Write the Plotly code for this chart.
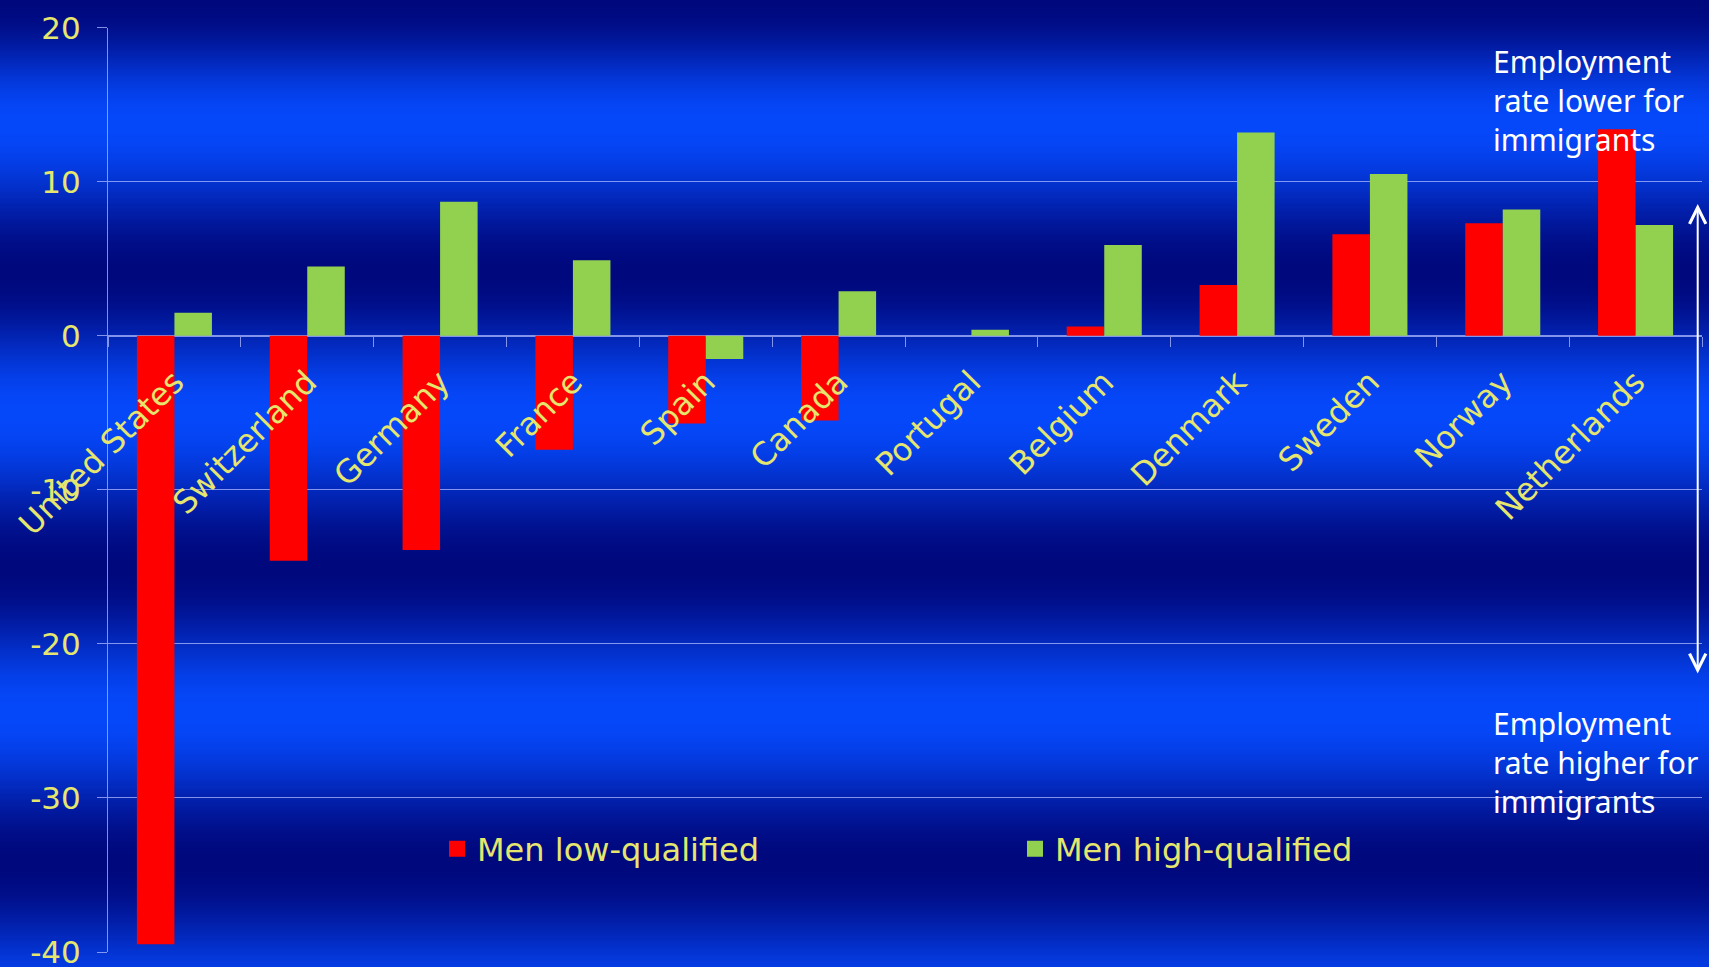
import numpy as np
import plotly.graph_objects as go

# Difference in employment rate, native-born minus immigrants (percentage points)
countries = ["United States", "Switzerland", "Germany", "France", "Spain", "Canada",
             "Portugal", "Belgium", "Denmark", "Sweden", "Norway", "Netherlands"]
men_low = [-39.5, -14.6, -13.9, -7.4, -5.7, -5.5, 0.0, 0.6, 3.3, 6.6, 7.3, 13.4]
men_high = [1.5, 4.5, 8.7, 4.9, -1.5, 2.9, 0.4, 5.9, 13.2, 10.5, 8.2, 7.2]
y_ticks = [-40, -30, -20, -10, 0, 10, 20]
y_tick_text = ["-40", "-30", "-20", "-10", "0", "10", "20"]

W, H = 1709, 967
YELLOW = "#e6e66e"
GRID = "rgba(175,185,255,0.75)"
RED = "#ff0000"
GREEN = "#92d050"

# plot-area placement in pixels
px_left, px_right = 108, 1702
px_top, px_bottom = 27.7, 952
x_dom = [px_left / W, px_right / W]
y_dom = [(H - px_bottom) / H, (H - px_top) / H]
y_range = [-40, 20]
zero_pos = y_dom[0] + (0 - y_range[0]) / (y_range[1] - y_range[0]) * (y_dom[1] - y_dom[0])

fig = go.Figure()
fig.add_trace(go.Bar(x=countries, y=men_low, name="Men low-qualified",
                     marker=dict(color=RED, line=dict(width=0)), showlegend=False))
fig.add_trace(go.Bar(x=countries, y=men_high, name="Men high-qualified",
                     marker=dict(color=GREEN, line=dict(width=0)), showlegend=False))
# legend entries with larger square swatches
for name, col in [("Men low-qualified", RED), ("Men high-qualified", GREEN)]:
    fig.add_trace(go.Scatter(x=[None], y=[None], mode="markers", name=name,
                             marker=dict(symbol="square", size=20, color=col)))

# banded blue backdrop: dark/bright horizontal stripes
stops_y = [0, 123, 273, 413, 568, 713, 863, 1008]
stops_t = [0, 1, 0, 1, 0, 1, 0, 1]
dark = np.array([0, 8, 125])
bright = np.array([5, 72, 250])
shapes = []
step = 2
for y in range(0, H, step):
    t = np.interp(y + step / 2, stops_y, stops_t)
    t = 0.5 - 0.5 * np.cos(np.pi * t)
    c = dark + (bright - dark) * t
    shapes.append(dict(type="rect", xref="paper", yref="paper", x0=0, x1=1,
                       y0=1 - (y + step + 1.5) / H, y1=1 - y / H, layer="below",
                       fillcolor="rgb(%d,%d,%d)" % tuple(c.round()), line=dict(width=0)))

note_font = dict(family="Noto Sans", size=30, color="white")
annotations = [
    dict(text="Employment<br>rate lower for<br>immigrants", xref="paper", yref="paper",
         x=1491 / W, y=1 - 100 / H, xanchor="left", yanchor="middle", align="left",
         showarrow=False, font=note_font),
    dict(text="Employment<br>rate higher for<br>immigrants", xref="paper", yref="paper",
         x=1491 / W, y=1 - 762 / H, xanchor="left", yanchor="middle", align="left",
         showarrow=False, font=note_font),
    dict(text="", xref="paper", yref="paper", x=1697.7 / W, y=1 - 204 / H,
         ax=0, ay=471, axref="pixel", ayref="pixel", showarrow=True,
         arrowside="end+start", arrowhead=5, startarrowhead=5, arrowwidth=2,
         arrowsize=1.6, startarrowsize=1.6, arrowcolor="white", standoff=0, startstandoff=0),
]

fig.update_layout(
    width=W, height=H,
    margin=dict(l=0, r=0, t=0, b=0, autoexpand=False),
    paper_bgcolor="rgb(0,20,160)",
    plot_bgcolor="rgba(0,0,0,0)",
    barmode="group", bargap=0.435, bargroupgap=0,
    shapes=shapes, annotations=annotations,
    showlegend=True,
    legend=dict(orientation="h", x=437 / W, y=1 - 849 / H, xanchor="left", yanchor="middle",
                bgcolor="rgba(0,0,0,0)", font=dict(family="DejaVu Sans", size=32, color=YELLOW),
                itemsizing="trace", entrywidth=533, entrywidthmode="pixels"),
    xaxis=dict(domain=x_dom, anchor="free", position=zero_pos, type="category",
               automargin=False, tickangle=-45, tickson="boundaries", ticks="outside",
               ticklen=10, tickcolor=GRID, showgrid=False, showline=False, zeroline=False,
               ticklabelstandoff=20,
               tickfont=dict(family="DejaVu Sans", size=32, color=YELLOW)),
    yaxis=dict(domain=y_dom, range=y_range, tickvals=y_ticks, ticktext=y_tick_text,
               automargin=False, ticks="outside", ticklen=10, ticklabelstandoff=10,
               ticklabeloverflow="allow",
               tickcolor=GRID, showgrid=True, gridcolor=GRID, gridwidth=1,
               zeroline=True, zerolinecolor=GRID, zerolinewidth=1.5,
               showline=True, linecolor=GRID, linewidth=1,
               tickfont=dict(family="DejaVu Sans", size=31, color=YELLOW)),
)

fig.write_html("out.html")
